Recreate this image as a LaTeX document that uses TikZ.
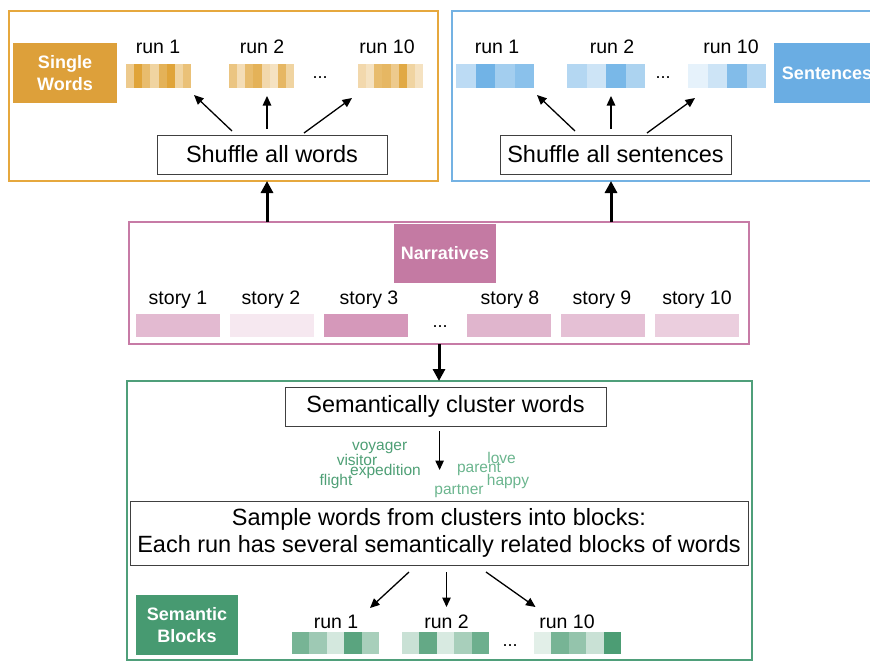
\documentclass[tikz,border=0pt]{standalone}
\usepackage{fontspec}
\setmainfont{Liberation Sans}
\usetikzlibrary{arrows.meta}
\definecolor{ogB}{HTML}{E6A83E}
\definecolor{ogF}{HTML}{DDA03A}
\definecolor{ogS}{HTML}{DE9F2F}
\definecolor{blB}{HTML}{74B2E3}
\definecolor{blF}{HTML}{6AADE3}
\definecolor{blS}{HTML}{58A6E2}
\definecolor{pkB}{HTML}{C77BA6}
\definecolor{pkF}{HTML}{C47AA3}
\definecolor{pkS}{HTML}{C4709F}
\definecolor{gnB}{HTML}{4F9F7A}
\definecolor{gnF}{HTML}{479A71}
\definecolor{gnS}{HTML}{3D9468}
\definecolor{gnW}{HTML}{4E9F75}
\definecolor{gnL}{HTML}{6BB58E}
\newcommand\stripebar[6]{%
  \foreach \v [count=\i from 0] in {#6} {
    \fill[#5!\v!white] ({#1+\i*#3},#2) rectangle ++(#3,#4);
  }}
\begin{document}
\begin{tikzpicture}[x=1pt,y=-1pt,
  frame/.style={draw,line width=2pt,inner sep=0pt,outer sep=0pt},
  lab/.style={fill,text=white,font=\bfseries\fontsize{18}{22}\selectfont,align=center,inner sep=0pt,outer sep=0pt},
  stepbox/.style={draw=black!75,line width=1pt,fill=white,inner sep=0pt,outer sep=0pt,font=\fontsize{23.5}{27}\selectfont,align=center},
  runlab/.style={font=\fontsize{19.5}{22}\selectfont,inner sep=0pt},
  dotlab/.style={font=\fontsize{18}{20}\selectfont,inner sep=0pt},
  barbox/.style={inner sep=0pt,outer sep=0pt},
  arr/.style={-{Triangle[length=9.5pt,width=8.5pt]},line width=1.3pt},
  bigarr/.style={-{Triangle[length=12pt,width=12pt]},line width=3pt},
  cw/.style={font=\fontsize{15.5}{15}\selectfont,inner sep=0pt}
]
\useasboundingbox (0,0) rectangle (870,661);
\clip (0,0) rectangle (870,661);

% ---------- frames ----------
\node[frame,draw=ogB,minimum width=429,minimum height=170] (obox) at (223.5,96) {};
\node[frame,draw=blB,minimum width=448,minimum height=170] (bbox) at (676,96) {};
\node[frame,draw=pkB,minimum width=620,minimum height=122] (nbox) at (439,283) {};
\node[frame,draw=gnB,minimum width=625,minimum height=279] (gbox) at (439.5,520.5) {};

% ---------- labels ----------
\node[lab,fill=ogF,minimum width=104,minimum height=60] (swl) at (65,73) {Single\\Words};
\node[lab,fill=blF,minimum width=106,minimum height=60] (sen) at (827,73) {Sentences};
\node[lab,fill=pkF,minimum width=102,minimum height=59] (nar) at (445,253.5) {Narratives};
\node[lab,fill=gnF,minimum width=102,minimum height=60] (sbl) at (187,625) {Semantic\\Blocks};

% ---------- single words runs ----------
\node[runlab] (or1) at (158,47) {run 1};
\node[runlab] (or2) at (262,47) {run 2};
\node[runlab] (or3) at (387,47) {run 10};
\node[barbox,minimum width=65,minimum height=24] (ob1) at (158.5,76) {};
\node[barbox,minimum width=65,minimum height=24] (ob2) at (261.5,76) {};
\node[barbox,minimum width=65,minimum height=24] (ob3) at (390.5,76) {};
\stripebar{126}{64}{8.125}{24}{ogS}{55,95,70,45,80,95,45,65}
\stripebar{229}{64}{8.125}{24}{ogS}{60,35,70,80,40,30,75,45}
\stripebar{358}{64}{8.125}{24}{ogS}{40,30,70,75,55,90,45,30}
\node[dotlab] (od) at (320,78) {...};

% ---------- sentences runs ----------
\node[runlab] (br1) at (497,47) {run 1};
\node[runlab] (br2) at (612,47) {run 2};
\node[runlab] (br3) at (731,47) {run 10};
\node[barbox,minimum width=78,minimum height=24] (bb1) at (495,76) {};
\node[barbox,minimum width=78,minimum height=24] (bb2) at (606,76) {};
\node[barbox,minimum width=78,minimum height=24] (bb3) at (727,76) {};
\stripebar{456}{64}{19.5}{24}{blS}{40,85,55,70}
\stripebar{567}{64}{19.5}{24}{blS}{45,30,80,50}
\stripebar{688}{64}{19.5}{24}{blS}{15,30,75,45}
\node[dotlab] (bd) at (663,78) {...};

% ---------- shuffle boxes ----------
\node[stepbox,minimum width=230,minimum height=39] (shw) at (272,154.5) {Shuffle all words};
\node[stepbox,minimum width=231,minimum height=39] (shs) at (615.5,154.5) {Shuffle all sentences};

\coordinate (w1s) at (232,131); \coordinate (w1e) at (194,95);
\coordinate (w2s) at (267,129); \coordinate (w2e) at (267,96);
\coordinate (w3s) at (304,133); \coordinate (w3e) at (352,98);
\draw[arr] (w1s) -- (w1e);
\draw[arr] (w2s) -- (w2e);
\draw[arr] (w3s) -- (w3e);
\coordinate (s1s) at (575,131); \coordinate (s1e) at (537,95);
\coordinate (s2s) at (611,129); \coordinate (s2e) at (611,96);
\coordinate (s3s) at (647,133); \coordinate (s3e) at (695,98);
\draw[arr] (s1s) -- (s1e);
\draw[arr] (s2s) -- (s2e);
\draw[arr] (s3s) -- (s3e);

% ---------- narratives ----------
\node[runlab] (st1) at (178,300) {story 1};
\node[runlab] (st2) at (271,300) {story 2};
\node[runlab] (st3) at (369,300) {story 3};
\node[runlab] (st8) at (510,300) {story 8};
\node[runlab] (st9) at (602,300) {story 9};
\node[runlab] (st10) at (697,300) {story 10};
\node[barbox,minimum width=84,minimum height=23,fill=pkS!48!white] (nb1) at (178,325.5) {};
\node[barbox,minimum width=84,minimum height=23,fill=pkS!16!white] (nb2) at (272,325.5) {};
\node[barbox,minimum width=84,minimum height=23,fill=pkS!72!white] (nb3) at (366,325.5) {};
\node[barbox,minimum width=84,minimum height=23,fill=pkS!52!white] (nb8) at (509,325.5) {};
\node[barbox,minimum width=84,minimum height=23,fill=pkS!44!white] (nb9) at (602.5,325.5) {};
\node[barbox,minimum width=84,minimum height=23,fill=pkS!34!white] (nb10) at (697,325.5) {};
\node[dotlab] (nd) at (440,327) {...};

% ---------- thick arrows ----------
\coordinate (ax1) at (267,0);
\coordinate (ax2) at (611,0);
\coordinate (ax3) at (439,0);
\draw[bigarr] (ax1 |- nbox.north) -- (ax1 |- obox.south);
\draw[bigarr] (ax2 |- nbox.north) -- (ax2 |- bbox.south);
\draw[bigarr] (ax3 |- nbox.south) -- (ax3 |- gbox.north);

% ---------- semantic part ----------
\node[stepbox,minimum width=321,minimum height=39] (scw) at (445.5,406.5) {Semantically cluster words};
\coordinate (c1s) at (439.6,431); \coordinate (c1e) at (439.6,470);
\draw[arr] (c1s) -- (c1e);

\node[cw,text=gnW] (cvoy) at (379.6,448) {voyager};
\node[cw,text=gnW] (cvis) at (357,460) {visitor};
\node[cw,text=gnW] (cexp) at (385.5,471.5) {expedition};
\node[cw,text=gnW] (cfli) at (336,481.5) {flight};
\node[cw,text=gnL] (clov) at (501.6,457.5) {love};
\node[cw,text=gnL] (cpar) at (479,469.5) {parent};
\node[cw,text=gnL] (chap) at (508,481.5) {happy};
\node[cw,text=gnL] (cprt) at (459,491) {partner};

\node[stepbox,minimum width=618,minimum height=64] (smp) at (439,533) {Sample words from clusters into blocks:\\Each run has several semantically related blocks of words};

\coordinate (g1s) at (409,572); \coordinate (g1e) at (370,608);
\coordinate (g2s) at (446.5,572); \coordinate (g2e) at (446.5,607);
\coordinate (g3s) at (486,572); \coordinate (g3e) at (535.5,607);
\draw[arr] (g1s) -- (g1e);
\draw[arr] (g2s) -- (g2e);
\draw[arr] (g3s) -- (g3e);

\node[runlab] (gr1) at (336,622) {run 1};
\node[runlab] (gr2) at (446.5,622) {run 2};
\node[runlab] (gr3) at (567,622) {run 10};
\node[barbox,minimum width=87,minimum height=22] (gb1) at (335.5,643) {};
\node[barbox,minimum width=87,minimum height=22] (gb2) at (445.5,643) {};
\node[barbox,minimum width=87,minimum height=22] (gb3) at (577.5,643) {};
\stripebar{292}{632}{17.4}{22}{gnS}{70,50,22,85,45}
\stripebar{402}{632}{17.4}{22}{gnS}{28,80,20,45,75}
\stripebar{534}{632}{17.4}{22}{gnS}{15,70,55,28,92}
\node[dotlab] (gd) at (510,646) {...};
\end{tikzpicture}
\end{document}
